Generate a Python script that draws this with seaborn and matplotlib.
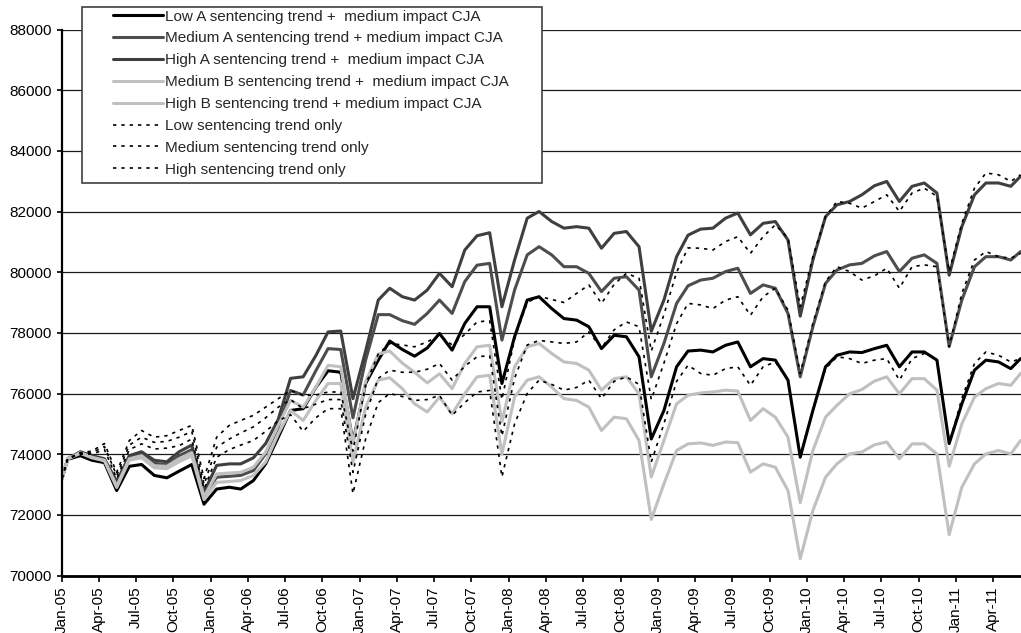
import numpy as np
import pandas as pd
import matplotlib
matplotlib.use("Agg")
import matplotlib.pyplot as plt
import matplotlib.transforms as mtrans
from matplotlib.patches import Rectangle
import seaborn as sns

# ---------------- data ----------------
# sample dates: 1 Jan 2005, the 15th of each month Jan-05..May-11, early Jun-11
first_date = ["2005-01-01"]
mid_months = list((pd.date_range("2005-01-01", periods=77, freq="MS") + pd.Timedelta(days=14)).strftime("%Y-%m-%d"))
last_date = ["2011-06-08"]
dates = pd.to_datetime(first_date + mid_months + last_date)

low_a = [73200,
    73830, 73950, 73800, 73720, 72800, 73600, 73660, 73300, 73220, 73440, 73660, 72350,
    72850, 72910, 72850, 73130, 73680, 74560, 75440, 75500, 76200, 76750, 76700, 74400,
    76330, 77100, 77730, 77450, 77230, 77500, 77980, 77430, 78310, 78860, 78860, 76330,
    77870, 79080, 79190, 78800, 78470, 78420, 78200, 77480, 77920, 77870, 77210, 74500,
    75440, 76880, 77400, 77430, 77370, 77590, 77700, 76880, 77150, 77100, 76440, 73900,
    75440, 76880, 77260, 77370, 77350, 77480, 77590, 76880, 77370, 77370, 77100, 74350,
    75660, 76770, 77100, 77040, 76820,
    77150]
medium_a = [73200,
    73850, 74060, 73920, 73820, 73000, 73900, 74000, 73700, 73650, 73950, 74150, 72650,
    73240, 73270, 73300, 73460, 74010, 74890, 76100, 75950, 76750, 77480, 77450, 75200,
    77100, 78600, 78600, 78400, 78280, 78640, 79080, 78640, 79690, 80230, 80290, 77760,
    79410, 80570, 80840, 80570, 80180, 80180, 79960, 79360, 79800, 79850, 79410, 76550,
    77650, 78970, 79550, 79740, 79800, 80020, 80130, 79300, 79580, 79470, 78640, 76550,
    78200, 79630, 80070, 80240, 80290, 80540, 80680, 80020, 80460, 80570, 80290, 77550,
    79080, 80180, 80510, 80510, 80400,
    80680]
high_a = [73200,
    73850, 74080, 73950, 73850, 73100, 73950, 74080, 73800, 73750, 74080, 74300, 72750,
    73630, 73680, 73680, 73880, 74350, 75150, 76500, 76550, 77250, 78030, 78060, 75830,
    77400, 79080, 79470, 79190, 79080, 79410, 79960, 79520, 80730, 81200, 81300, 78860,
    80400, 81780, 82000, 81670, 81450, 81500, 81450, 80790, 81280, 81340, 80840, 78050,
    79080, 80510, 81220, 81420, 81450, 81780, 81950, 81230, 81610, 81670, 81060, 78550,
    80400, 81830, 82220, 82330, 82550, 82850, 82990, 82330, 82830, 82940, 82610, 79900,
    81500, 82550, 82940, 82940, 82830,
    83160]
medium_b = [73200,
    73840, 74030, 73880, 73780, 72900, 73800, 73880, 73550, 73520, 73750, 73950, 72500,
    73070, 73100, 73130, 73300, 73740, 74670, 75440, 75110, 75770, 76330, 76330, 73740,
    75550, 76440, 76520, 76160, 75660, 75390, 75880, 75330, 75990, 76550, 76600, 74000,
    75880, 76440, 76550, 76210, 75830, 75770, 75550, 74780, 75220, 75170, 74450, 71850,
    73020, 74120, 74340, 74370, 74290, 74400, 74380, 73410, 73680, 73570, 72800, 70550,
    72140, 73240, 73680, 74010, 74070, 74310, 74400, 73850, 74340, 74340, 74010, 71350,
    72910, 73680, 74010, 74120, 74010,
    74450]
high_b = [73200,
    73850, 74050, 73900, 73800, 72950, 73850, 73950, 73620, 73600, 73850, 74050, 72600,
    73350, 73380, 73400, 73570, 74070, 74950, 75770, 75550, 76210, 76930, 76880, 74340,
    76400, 77300, 77400, 77000, 76700, 76350, 76650, 76160, 76990, 77540, 77590, 75060,
    76880, 77540, 77650, 77320, 77040, 76990, 76770, 76110, 76490, 76550, 75990, 73250,
    74450, 75660, 75940, 76020, 76050, 76110, 76080, 75110, 75500, 75220, 74560, 72400,
    74120, 75220, 75610, 75990, 76130, 76410, 76550, 75990, 76490, 76490, 76110, 73600,
    75000, 75880, 76160, 76330, 76270,
    76660]
low_only = [73200,
    73850, 74000, 74000, 74150, 73200, 74150, 74340, 74170, 74200, 74280, 74500, 72850,
    73900, 74150, 74300, 74450, 74750, 75100, 75300, 74750, 75200, 75500, 75500, 72700,
    74500, 75700, 76000, 75900, 75770, 75800, 75940, 75280, 75700, 76050, 76100, 73250,
    75000, 76000, 76440, 76300, 76110, 76200, 76440, 75830, 76400, 76550, 76300, 73740,
    75000, 76400, 76930, 76660, 76600, 76820, 76880, 76270, 76880, 77040, 76440, 73960,
    75440, 76820, 77210, 77150, 76990, 77100, 77150, 76440, 77150, 77320, 77150, 74340,
    75830, 76990, 77370, 77260, 77040,
    77150]
medium_only = [73200,
    73850, 74030, 74050, 74250, 73300, 74300, 74560, 74390, 74420, 74560, 74750, 73000,
    74230, 74500, 74700, 74900, 75200, 75550, 75800, 75500, 75650, 75800, 75800, 73400,
    75300, 76500, 76770, 76700, 76700, 76800, 76990, 76440, 76900, 77210, 77250, 74600,
    76500, 77600, 77750, 77700, 77650, 77700, 78030, 77500, 78100, 78360, 78200, 75800,
    77000, 78300, 78970, 78920, 78800, 79080, 79190, 78580, 79190, 79470, 78750, 76660,
    78310, 79690, 80180, 80020, 79740, 79880, 80130, 79470, 80180, 80240, 80180, 77540,
    79300, 80400, 80680, 80510, 80460,
    80620]
high_only = [73200,
    73850, 74050, 74100, 74350, 73400, 74450, 74780, 74560, 74610, 74780, 74950, 73200,
    74560, 74950, 75110, 75280, 75550, 75830, 76100, 75940, 75950, 76050, 76050, 74100,
    76300, 77300, 77650, 77600, 77540, 77700, 77920, 77600, 77950, 78360, 78400, 75800,
    77800, 79000, 79200, 79100, 79000, 79300, 79580, 78970, 79600, 79960, 79800, 77400,
    78600, 80000, 80800, 80790, 80730, 81010, 81170, 80620, 81170, 81560, 81120, 78860,
    80510, 81830, 82330, 82270, 82110, 82330, 82550, 82000, 82610, 82770, 82500, 80020,
    81610, 82770, 83270, 83210, 82990,
    83210]

labels = [
    "Low A sentencing trend +  medium impact CJA",
    "Medium A sentencing trend + medium impact CJA",
    "High A sentencing trend +  medium impact CJA",
    "Medium B sentencing trend +  medium impact CJA",
    "High B sentencing trend + medium impact CJA",
    "Low sentencing trend only",
    "Medium sentencing trend only",
    "High sentencing trend only",
]
series = [low_a, medium_a, high_a, medium_b, high_b, low_only, medium_only, high_only]

y_ticks = [70000, 72000, 74000, 76000, 78000, 80000, 82000, 84000, 86000, 88000]
x_ticks = pd.date_range("2005-01-01", "2011-04-01", freq="3MS")
x_ticklabels = [d.strftime("%b-%y") for d in x_ticks]

# ---------------- styling ----------------
sns.set_style("white")
plt.rcParams["font.family"] = ["Liberation Sans", "DejaVu Sans"]

colors = ["#000000", "#4d4d4d", "#3f3f3f", "#c0c0c0", "#c0c0c0",
          "#000000", "#000000", "#000000"]
widths = [2.2, 2.2, 2.2, 2.2, 2.2, 1.2, 1.2, 1.2]
styles = ["-", "-", "-", "-", "-", (0, (2, 3)), (0, (2, 3)), (0, (2, 3))]

W, H = 1021, 633
FS = 11
fig = plt.figure(figsize=(W / 100, H / 100), dpi=100)
ax_left, ax_right, ax_top, ax_bot = 62, 1021, 29.5, 575.5
ax = fig.add_axes([ax_left / W, 1 - ax_bot / H, (ax_right - ax_left) / W, (ax_bot - ax_top) / H])

df = pd.DataFrame({"date": dates})
for lab, vals in zip(labels, series):
    df[lab] = vals

for lab, c, lw, ls in zip(labels, colors, widths, styles):
    sns.lineplot(data=df, x="date", y=lab, ax=ax, color=c, lw=lw,
                 linestyle=ls, label=lab, legend=False)

ax.set_ylim(70000, 88000)
ax.set_xlim(pd.Timestamp("2005-01-01"), pd.Timestamp("2011-06-09"))
ax.set_yticks(y_ticks)
ax.set_yticklabels([str(v) for v in y_ticks], fontsize=FS)
ax.set_xticks(x_ticks)
ax.set_xticklabels(x_ticklabels, rotation=90, fontsize=FS)
ax.set_xlabel("")
ax.set_ylabel("")

offset = mtrans.ScaledTranslation(5 / 100, 0, fig.dpi_scale_trans)
for t in ax.get_xticklabels():
    t.set_transform(t.get_transform() + offset)

ax.grid(axis="y", color="#1a1a1a", lw=0.9)
ax.grid(axis="x", visible=False)
ax.set_axisbelow(True)
for s in ["top", "right"]:
    ax.spines[s].set_visible(False)
ax.spines["left"].set_color("black")
ax.spines["left"].set_linewidth(1.6)
ax.spines["bottom"].set_color("black")
ax.spines["bottom"].set_linewidth(2.0)
ax.tick_params(axis="y", direction="out", length=3.5, width=1.2, pad=4.0, colors="black", left=True)
ax.tick_params(axis="x", direction="out", length=4, width=1.2, pad=4.0, colors="black", bottom=True)

# legend box (opaque, drawn above the plot)
lx0, ly0, lx1, ly1 = 82, 7, 542, 183
rect = Rectangle((lx0 / W, 1 - ly1 / H), (lx1 - lx0) / W, (ly1 - ly0) / H,
                 transform=fig.transFigure, facecolor="white", edgecolor="#404040",
                 lw=1.2, zorder=3)
fig.patches.append(rect)
handles, labs = ax.get_legend_handles_labels()
leg = fig.legend(handles, labs, loc="upper left",
                 bbox_to_anchor=(113 / W, 1 - 9.6 / H), bbox_transform=fig.transFigure,
                 frameon=False, fontsize=FS, handlelength=3.27, handletextpad=0.13,
                 labelspacing=0.515, borderpad=0.0, borderaxespad=0.0)
leg.set_zorder(4)

fig.savefig("out.png", dpi=100)
